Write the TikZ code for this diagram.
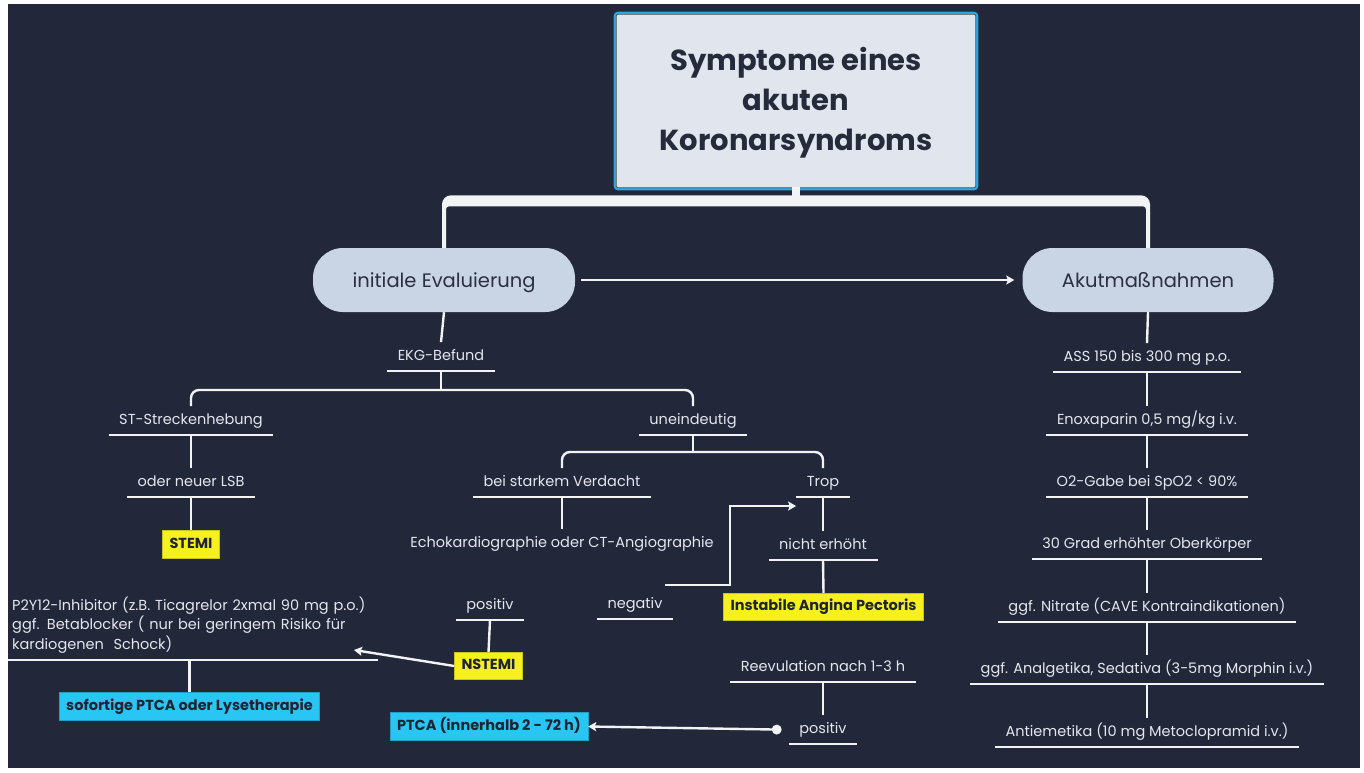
\documentclass[tikz,border=0pt]{standalone}
\usepackage{fontspec}
\setmainfont{Poppins}
\usetikzlibrary{arrows.meta,calc}
\definecolor{bg}{HTML}{22273A}
\definecolor{lin}{HTML}{F2F3F5}
\definecolor{txt}{HTML}{E4E7EE}
\definecolor{pillfill}{HTML}{C9D4E5}
\definecolor{pilltxt}{HTML}{2A3042}
\definecolor{titlefill}{HTML}{E1E5EE}
\definecolor{titleblue}{HTML}{2AA9E2}
\definecolor{titletxt}{HTML}{262B3B}
\definecolor{yel}{HTML}{F7F01F}
\definecolor{yeldark}{HTML}{C9C21A}
\definecolor{cya}{HTML}{29C6F3}
\definecolor{boxtxt}{HTML}{1F2433}
\begin{document}
\begin{tikzpicture}[x=1pt,y=-1pt,
  con/.style={draw=lin,line width=2.4pt},
  arr/.style={con,-{Stealth[width=9pt,length=8pt,inset=1.5pt]}},
  lbl/.style={font=\fontsize{14.5}{18}\selectfont,text=txt,text height=11pt,text depth=3.5pt,inner xsep=10.5pt,inner ysep=7pt,anchor=south},
  ul/.style={lbl,append after command={(\tikzlastnode.south west) edge[con] (\tikzlastnode.south east)}},
  hbox/.style={font=\fontsize{14.5}{18}\selectfont\bfseries,text=boxtxt,minimum height=27.5pt,inner xsep=7pt,inner ysep=0pt,text height=10.5pt,text depth=3pt},
  ybox/.style={hbox,fill=yel,draw=yeldark,line width=0.6pt},
  cbox/.style={hbox,fill=cya,draw=cya!80!black,line width=0.6pt},
  pill/.style={fill=pillfill,text=pilltxt,font=\fontsize{19.5}{23}\selectfont,minimum height=64pt,rounded corners=30pt,text height=14.4pt,text depth=0pt},
]
\useasboundingbox (0,0) rectangle (1364,772);
\fill[white] (0,0) rectangle (1364,772);
\fill[bg] (8,4) rectangle (1360,768);

% title
\node[fill=titlefill,draw=titleblue,line width=2.6pt,rounded corners=3pt,minimum width=362pt,minimum height=176pt] (title) at (796,101) {};
\draw[draw=gray!70!black,line width=0.8pt,rounded corners=2pt] ($(title.north west)+(2.5,2.5)$) rectangle ($(title.south east)+(-2.5,-2.5)$);
\node[text=titletxt,font=\fontsize{29}{40}\selectfont\bfseries,align=center] (titletext) at ($(title.center)+(0,2)$)
      {Symptome eines\\akuten\\Koronarsyndroms};

% pills
\node[pill,minimum width=262pt] (init) at (444,280) {initiale Evaluierung};
\node[pill,minimum width=251pt] (akut) at (1148,280) {Akutmaßnahmen};

% title bracket
\fill[lin] ($(init.north)+(-2,0)$) [rounded corners=9pt] -- ($(init.north|-title.south)+(-2,5)$)
  -- ($(akut.north|-title.south)+(2,5)$) [sharp corners] -- ($(akut.north)+(2,0)$)
  -- ($(akut.north)+(-2,0)$) [rounded corners=3pt] -- ($(akut.north|-title.south)+(-2,16)$)
  -- ($(init.north|-title.south)+(2,16)$) [sharp corners] -- ($(init.north)+(2,0)$) -- cycle;
\fill[lin] ($(title.south)+(-4,-3)$) rectangle ($(title.south)+(4,6)$);

\draw[arr] ($(init.east)+(6,0)$) -- ($(akut.west)+(-8,0)$);

% left tree
\node[ul] (ekg) at (441,371) {EKG-Befund};
\node[ul] (st) at (191,435) {ST-Streckenhebung};
\node[ul] (oder) at (191,497) {oder neuer LSB};
\node[ybox] (stemi) at (191,544.5) {STEMI};
\node[ul] (unein) at (693,435) {uneindeutig};
\node[ul] (bsv) at (562,497) {bei starkem Verdacht};
\node[lbl] (echo) at (562,558) {Echokardiographie oder CT-Angiographie};
\node[ul] (trop) at (823,497) {Trop};
\node[ul] (nicht) at (823,560) {nicht erhöht};
\node[ybox] (inst) at (823.5,607) {Instabile Angina Pectoris};
\node[ul] (neg) at (635,619) {negativ};
\node[ul] (pos1) at (490,620) {positiv};
\node[ybox] (nstemi) at (488.5,666) {NSTEMI};
\node[ul] (reev) at (823,682) {Reevulation nach 1-3 h};
\node[ul] (pos2) at (823,744) {positiv};
\node[cbox] (ptca) at (489,726.5) {PTCA (innerhalb 2 - 72 h)};
\node[anchor=south west,text width=362pt,inner xsep=4pt,inner ysep=6.5pt,align=left,text=txt,
      font=\fontsize{14.5}{19.5}\selectfont] (p2) at (8,660)
      {P2Y12-Inhibitor (z.B. Ticagrelor 2xmal 90 mg p.o.)\\ggf. Betablocker ( nur bei geringem Risiko für\\kardiogenen\ \ Schock)};
\draw[con] (p2.south west) -- (p2.south east);
\node[cbox] (sof) at (189.5,706.5) {sofortige PTCA oder Lysetherapie};

\coordinate (p2tip) at (354,650);
\coordinate (troptip) at ($(trop.south west)+(0,9)$);
\coordinate (negstart) at ($(neg.north east)+(-8,-5)$);
\coordinate (dot) at ($(pos2.west)+(-12,0)$);

\draw[con] (init.south) -- (ekg.north);
\draw[con] (ekg.south) -- ++(0,19);
\draw[con,rounded corners=8pt] (st.north) |- ($(ekg.south)+(0,19)$) -| (unein.north);
\draw[con] (st.south) -- (oder.north);
\draw[con] (oder.south) -- (stemi.north);
\draw[con] (unein.south) -- ++(0,17);
\draw[con,rounded corners=8pt] (bsv.north) |- ($(unein.south)+(0,17)$) -| (trop.north);
\draw[con] (bsv.south) -- (bsv.south|-echo.north);
\draw[con] (trop.south) -- (nicht.north);
\draw[con] (nicht.south) -- (inst.north);
\draw[con] (pos1.south) -- (nstemi.north);
\draw[arr] (nstemi.west) -- (p2tip);
\draw[con] (p2.south-|sof.north) -- (sof.north);
\draw[arr] (negstart) -- ++(65,0) |- (troptip);
\draw[con] (reev.south) -- (pos2.north);
\draw[arr] (dot) -- (ptca.east);
\fill[lin] (dot) circle (5pt);

% right column
\node[ul] (ass) at (1147,372) {ASS 150 bis 300 mg p.o.};
\node[ul] (enox) at (1147,435) {Enoxaparin 0,5 mg/kg i.v.};
\node[ul] (otwo) at (1147,497) {O2-Gabe bei SpO2 < 90\%};
\node[ul] (grad) at (1147,559) {30 Grad erhöhter Oberkörper};
\node[ul] (nitr) at (1147,622) {ggf. Nitrate (CAVE Kontraindikationen)};
\node[ul] (analg) at (1147,684) {ggf. Analgetika, Sedativa (3-5mg Morphin i.v.)};
\node[ul] (anti) at (1147,747) {Antiemetika (10 mg Metoclopramid i.v.)};
\draw[con] (akut.south) -- (ass.north);
\draw[con] (ass.south) -- (enox.north);
\draw[con] (enox.south) -- (otwo.north);
\draw[con] (otwo.south) -- (grad.north);
\draw[con] (grad.south) -- (nitr.north);
\draw[con] (nitr.south) -- (analg.north);
\draw[con] (analg.south) -- (anti.north);
\end{tikzpicture}
\end{document}
